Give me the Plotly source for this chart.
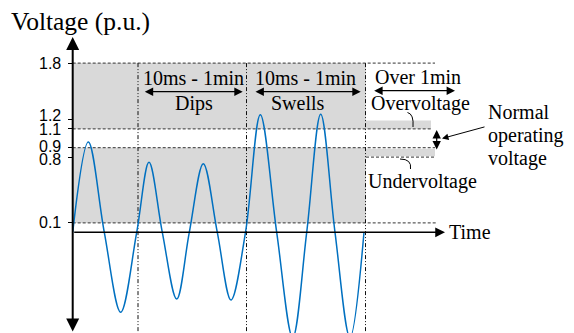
import plotly.graph_objects as go

# ---------------- data ----------------
# waveform: zero crossings and half-cycle peaks (time in arbitrary units, voltage in p.u.)
time_pts = [0, 15.6, 31.6, 48.0, 64.0,
            76.3, 89.6, 104.0, 116.6, 130.6, 144.6, 158.3, 172.8,
            187.6, 204.0, 220.0, 234.0, 248.0, 262.3, 277.3, 291.3]
volt_pts = [0, 0.96, 0, -0.85, 0,
            0.745, 0, -0.71, 0, 0.73, 0, -0.72, 0,
            1.25, 0, -1.12, 0, 1.255, 0, -1.12, 0]

tick_vals = [0.1, 0.8, 0.9, 1.1, 1.2, 1.8]
tick_text = ["0.1", "0.8", "0.9", "1.1", "1.2", "1.8"]
tick_label_shift = [0, -2.5, 1, -1, 4.5, 0]   # label nudges (px), as in the picture

v_top = 1.8
normal_hi, normal_lo = 1.1, 0.9
under_lo, over_hi = 0.8, 1.2
v_min = 0.1

# ---------------- layout helpers (pixel -> data) ----------------
W, H = 574, 333
X0PX, Y0PX, PXU = 72.7, 232.3, 94.0


def tx(px):
    return px - X0PX


def vy(py):
    return (Y0PX - py) / PXU


SERIF = "Liberation Serif, Times New Roman, serif"
SANS = "Liberation Sans, Arial, sans-serif"

fig = go.Figure()
fig.add_trace(go.Scatter(x=time_pts, y=volt_pts, mode="lines",
                         line=dict(color="#0070C0", width=1.5, shape="spline", smoothing=1.0),
                         hoverinfo="skip", showlegend=False))

shapes = []
grey = "#d9d9d9"
xg = tx(366)
shapes.append(dict(type="rect", x0=0, x1=xg, y0=normal_hi, y1=v_top, fillcolor=grey, line=dict(width=0), layer="below"))
shapes.append(dict(type="rect", x0=0, x1=xg, y0=v_min, y1=normal_lo, fillcolor=grey, line=dict(width=0), layer="below"))
shapes.append(dict(type="rect", x0=xg, x1=tx(431), y0=normal_hi, y1=over_hi - 0.01, fillcolor=grey, line=dict(width=0), layer="below"))
shapes.append(dict(type="rect", x0=xg, x1=tx(435), y0=under_lo + 0.01, y1=normal_lo - 0.01, fillcolor=grey, line=dict(width=0), layer="below"))

dash = dict(color="#333333", width=1, dash="3px,2px")
for (y, x0, x1) in [(v_top, 0, tx(435)), (normal_hi, 0, tx(431)), (normal_lo, 0, tx(435)),
                    (v_min, 0, tx(437)), (under_lo, xg, tx(435))]:
    shapes.append(dict(type="line", x0=x0, x1=x1, y0=y, y1=y, line=dash, layer="below"))

dd = dict(color="#111111", width=1, dash="4px,2px,1px,2px,1px,2px")
for xp in [138, 246.5, 365.5]:
    shapes.append(dict(type="line", x0=tx(xp), x1=tx(xp), y0=v_top, y1=vy(340), line=dd, layer="below"))


def curve(p0, c, p1):
    return dict(type="path", xref="x", yref="y",
                path=f"M {tx(p0[0])},{vy(p0[1])} Q {tx(c[0])},{vy(c[1])} {tx(p1[0])},{vy(p1[1])}",
                line=dict(color="black", width=1), layer="above")


shapes.append(curve((413, 127), (414, 114), (407.5, 112.5)))
shapes.append(curve((400, 159), (412, 159), (410.5, 169)))

annotations = []


def arrow(xh, yh, xt, yt, width=1.2, size=1.4, both=False, color="black"):
    annotations.append(dict(x=tx(xh), y=vy(yh), ax=tx(xt), ay=vy(yt), xref="x", yref="y",
                            axref="x", ayref="y", text="", showarrow=True, arrowhead=2,
                            arrowsize=size, arrowwidth=width, arrowcolor=color,
                            arrowside="end+start" if both else "end", standoff=0, startstandoff=0))


def label(text, xp, yp, size=20, xanchor="center", font=SERIF, yshift=0):
    annotations.append(dict(x=tx(xp), y=vy(yp), xref="x", yref="y", text=text, showarrow=False,
                            xanchor=xanchor, yanchor="middle", yshift=yshift,
                            font=dict(family=font, size=size, color="black")))


# axes arrows
arrow(X0PX, 37, X0PX, 333, width=2, size=1.3, both=True)
arrow(445, Y0PX, X0PX, Y0PX, width=1.5, size=1.3)

# duration arrows
arrow(242.7, 91.7, 143.3, 91.7, width=1.2, size=1.4, both=True)
arrow(360.7, 91.7, 254, 91.7, width=1.2, size=1.4, both=True)
arrow(455, 90.7, 372.7, 90.7, width=1.2, size=1.4, both=True)
arrow(436.7, 130, 436.7, 151, width=1.2, size=1.4, both=True)
arrow(442, 138.5, 486, 126.5, width=1, size=1.3)
# heads of the small curved arrows
arrow(406.5, 112, 408.5, 112.8, width=1, size=1.1)
arrow(410.5, 170, 410.7, 168, width=1, size=1.1)

# tick labels (with the picture's small nudges)
for v, t, s in zip(tick_vals, tick_text, tick_label_shift):
    annotations.append(dict(x=tx(62.5), y=v, xref="x", yref="y", text=t, showarrow=False,
                            xanchor="right", yanchor="middle", yshift=s,
                            font=dict(family=SANS, size=16, color="black")))

label("Voltage (p.u.)", 9, 21, size=25.5, xanchor="left")
label("10ms - 1min", 193, 77.5)
label("10ms - 1min", 305.5, 77.5)
label("Dips", 194.3, 103)
label("Swells", 298.3, 103)
label("Over 1min", 373, 76.5, xanchor="left")
label("Overvoltage", 369, 103, xanchor="left")
label("Undervoltage", 366, 181.5, xanchor="left")
label("Normal", 486, 112, xanchor="left")
label("operating", 486, 135.5, xanchor="left")
label("voltage", 486, 158.5, xanchor="left")
label("Time", 447, 231.5, xanchor="left")

fig.update_layout(
    width=W, height=H, autosize=False,
    margin=dict(l=0, r=0, t=0, b=0, pad=0),
    paper_bgcolor="white", plot_bgcolor="white",
    shapes=shapes, annotations=annotations, showlegend=False,
    xaxis=dict(range=[tx(0), tx(W)], visible=False, fixedrange=True, domain=[0, 1]),
    yaxis=dict(range=[vy(H), vy(0)], anchor="free", position=X0PX / W,
               tickvals=tick_vals, ticks="outside", ticklen=5, showticklabels=False,
               tickwidth=1, tickcolor="black", showgrid=False, zeroline=False, showline=False,
               fixedrange=True),
)

fig.write_html("out.html")
